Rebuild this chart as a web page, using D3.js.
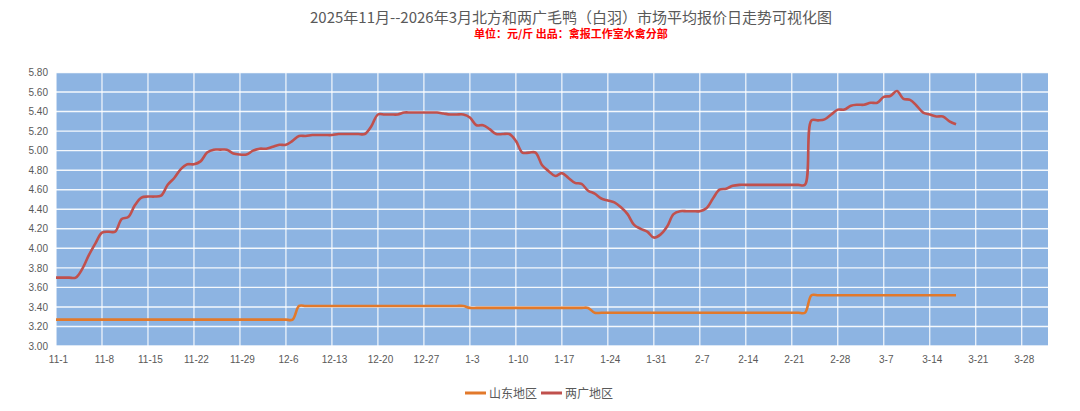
<!DOCTYPE html>
<html>
<head>
<meta charset="utf-8">
<script src="https://cdn.jsdelivr.net/npm/d3@7"></script>
<style>
  html, body { margin: 0; padding: 0; background: #ffffff; }
  svg { display: block; }
</style>
</head>
<body>
<svg id="chart" width="1080" height="411"></svg>
<script>
// ---------- data ----------
const titleText = "2025年11月--2026年3月北方和两广毛鸭（白羽）市场平均报价日走势可视化图";
const subtitleText = "单位：元/斤 出品：禽报工作室水禽分部";
const seriesNames = ["山东地区", "两广地区"];
const startDate = "2025-11-01";           // first daily value
const axisStart = "2025-11-01";
const axisEnd = "2026-04-01";
const yTicks = [3.00, 3.20, 3.40, 3.60, 3.80, 4.00, 4.20, 4.40, 4.60, 4.80, 5.00, 5.20, 5.40, 5.60, 5.80];
const xTickLabels = ["11-1","11-8","11-15","11-22","11-29","12-6","12-13","12-20","12-27","1-3","1-10","1-17","1-24","1-31","2-7","2-14","2-21","2-28","3-7","3-14","3-21","3-28"];

// 山东地区 daily average price (元/斤), 11-1 .. 3-18
const shandong = [
  3.27,3.27,3.27,3.27,3.27,3.27,3.27,3.27,3.27,3.27,
  3.27,3.27,3.27,3.27,3.27,3.27,3.27,3.27,3.27,3.27,
  3.27,3.27,3.27,3.27,3.27,3.27,3.27,3.27,3.27,3.27,
  3.27,3.27,3.27,3.27,3.27,3.27,3.27,3.41,3.41,3.41,
  3.41,3.41,3.41,3.41,3.41,3.41,3.41,3.41,3.41,3.41,
  3.41,3.41,3.41,3.41,3.41,3.41,3.41,3.41,3.41,3.41,
  3.41,3.41,3.41,3.39,3.39,3.39,3.39,3.39,3.39,3.39,
  3.39,3.39,3.39,3.39,3.39,3.39,3.39,3.39,3.39,3.39,
  3.39,3.39,3.34,3.34,3.34,3.34,3.34,3.34,3.34,3.34,
  3.34,3.34,3.34,3.34,3.34,3.34,3.34,3.34,3.34,3.34,
  3.34,3.34,3.34,3.34,3.34,3.34,3.34,3.34,3.34,3.34,
  3.34,3.34,3.34,3.34,3.34,3.52,3.52,3.52,3.52,3.52,
  3.52,3.52,3.52,3.52,3.52,3.52,3.52,3.52,3.52,3.52,
  3.52,3.52,3.52,3.52,3.52,3.52,3.52,3.52
];

// 两广地区 daily average price (元/斤), 11-1 .. 3-18
const liangguang = [
  3.70,3.70,3.70,3.70,3.79,3.93,4.05,4.16,4.17,4.17,
  4.30,4.32,4.44,4.52,4.53,4.53,4.54,4.65,4.72,4.81,
  4.86,4.86,4.89,4.98,5.01,5.01,5.01,4.97,4.96,4.96,
  5.00,5.02,5.02,5.04,5.06,5.06,5.10,5.15,5.15,5.16,
  5.16,5.16,5.16,5.17,5.17,5.17,5.17,5.17,5.25,5.37,
  5.37,5.37,5.37,5.39,5.39,5.39,5.39,5.39,5.39,5.38,
  5.37,5.37,5.37,5.34,5.26,5.26,5.22,5.17,5.17,5.17,
  5.10,4.98,4.98,4.98,4.85,4.79,4.74,4.77,4.72,4.67,
  4.66,4.59,4.56,4.51,4.49,4.47,4.42,4.35,4.24,4.20,
  4.17,4.11,4.14,4.22,4.35,4.38,4.38,4.38,4.38,4.41,
  4.51,4.60,4.61,4.64,4.65,4.65,4.65,4.65,4.65,4.65,
  4.65,4.65,4.65,4.65,4.65,5.31,5.31,5.32,5.37,5.42,
  5.42,5.46,5.47,5.47,5.49,5.49,5.55,5.56,5.61,5.53,
  5.52,5.46,5.39,5.37,5.35,5.35,5.30,5.27
];

const seriesColors = ["#E2792B", "#C0504D"];

// ---------- drawing ----------
const svg = d3.select("#chart");
const plot = { left: 56, top: 72.5, right: 1048, bottom: 346 };

const parse = d3.timeParse("%Y-%m-%d");
const t0 = parse(startDate);
const x = d3.scaleTime()
  .domain([parse(axisStart), parse(axisEnd)])
  .range([plot.left, plot.right]);
const y = d3.scaleLinear()
  .domain([3.0, 5.8])
  .range([plot.bottom, plot.top]);

// plot background
svg.append("rect")
  .attr("x", plot.left).attr("y", plot.top)
  .attr("width", plot.right - plot.left)
  .attr("height", plot.bottom - plot.top)
  .attr("fill", "#8DB4E2");

// tick dates (weekly) built from labels
const tickDates = xTickLabels.map(s => {
  const [m, d] = s.split("-").map(Number);
  return new Date(m >= 11 ? 2025 : 2026, m - 1, d);
});

// gridlines
svg.append("g")
  .selectAll("line")
  .data(yTicks)
  .join("line")
  .attr("x1", plot.left).attr("x2", plot.right)
  .attr("y1", d => y(d)).attr("y2", d => y(d))
  .attr("stroke", "#ffffff").attr("stroke-width", 1.4).attr("stroke-opacity", 0.9);

svg.append("g")
  .selectAll("line")
  .data(tickDates)
  .join("line")
  .attr("x1", d => x(d)).attr("x2", d => x(d))
  .attr("y1", plot.top).attr("y2", plot.bottom)
  .attr("stroke", "#ffffff").attr("stroke-width", 1.2).attr("stroke-opacity", 0.9);

// axes via d3 axis generators (labels only)
const yAxis = d3.axisLeft(y).tickValues(yTicks).tickFormat(d3.format(".2f")).tickSize(0).tickPadding(8);
const gy = svg.append("g").attr("transform", `translate(${plot.left},0)`).call(yAxis);
gy.select(".domain").remove();
gy.selectAll("text")
  .attr("font-family", "'Liberation Sans', Arial, sans-serif")
  .attr("font-size", 10)
  .attr("fill", "#595959");

const labelMap = new Map(tickDates.map((d, i) => [+d, xTickLabels[i]]));
const xAxis = d3.axisBottom(x).tickValues(tickDates).tickFormat(d => labelMap.get(+d)).tickSize(0).tickPadding(10);
const gx = svg.append("g").attr("transform", `translate(2,${plot.bottom})`).call(xAxis);
gx.select(".domain").remove();
gx.selectAll("text")
  .attr("font-family", "'Liberation Sans', Arial, sans-serif")
  .attr("font-size", 10)
  .attr("fill", "#595959");

// lines
const line = d3.line()
  .x((d, i) => x(d3.timeDay.offset(t0, i)))
  .y(d => y(d))
  .curve(d3.curveCatmullRom.alpha(0.5));

[shandong, liangguang].forEach((vals, k) => {
  svg.append("path")
    .datum(vals)
    .attr("d", line)
    .attr("fill", "none")
    .attr("stroke", seriesColors[k])
    .attr("stroke-width", 2.6)
    .attr("stroke-linejoin", "round");
});

// title
svg.append("text")
  .attr("x", 571).attr("y", 22.5)
  .attr("text-anchor", "middle")
  .attr("font-family", "'Noto Sans CJK SC', sans-serif")
  .attr("font-size", 15)
  .attr("fill", "#595959")
  .text(titleText);

svg.append("text")
  .attr("x", 571).attr("y", 37.5)
  .attr("text-anchor", "middle")
  .attr("font-family", "'Noto Sans CJK SC', sans-serif")
  .attr("font-size", 11)
  .attr("font-weight", "bold")
  .attr("fill", "#FF0000")
  .text(subtitleText);

// legend
const legendItems = [
  { name: seriesNames[0], color: seriesColors[0], x: 465 },
  { name: seriesNames[1], color: seriesColors[1], x: 541 }
];
const lg = svg.append("g");
legendItems.forEach(it => {
  lg.append("line")
    .attr("x1", it.x).attr("x2", it.x + 21)
    .attr("y1", 393).attr("y2", 393)
    .attr("stroke", it.color).attr("stroke-width", 3);
  lg.append("text")
    .attr("x", it.x + 24).attr("y", 397.5)
    .attr("font-family", "'Noto Sans CJK SC', sans-serif")
    .attr("font-size", 12)
    .attr("fill", "#595959")
    .text(it.name);
});
</script>
</body>
</html>
